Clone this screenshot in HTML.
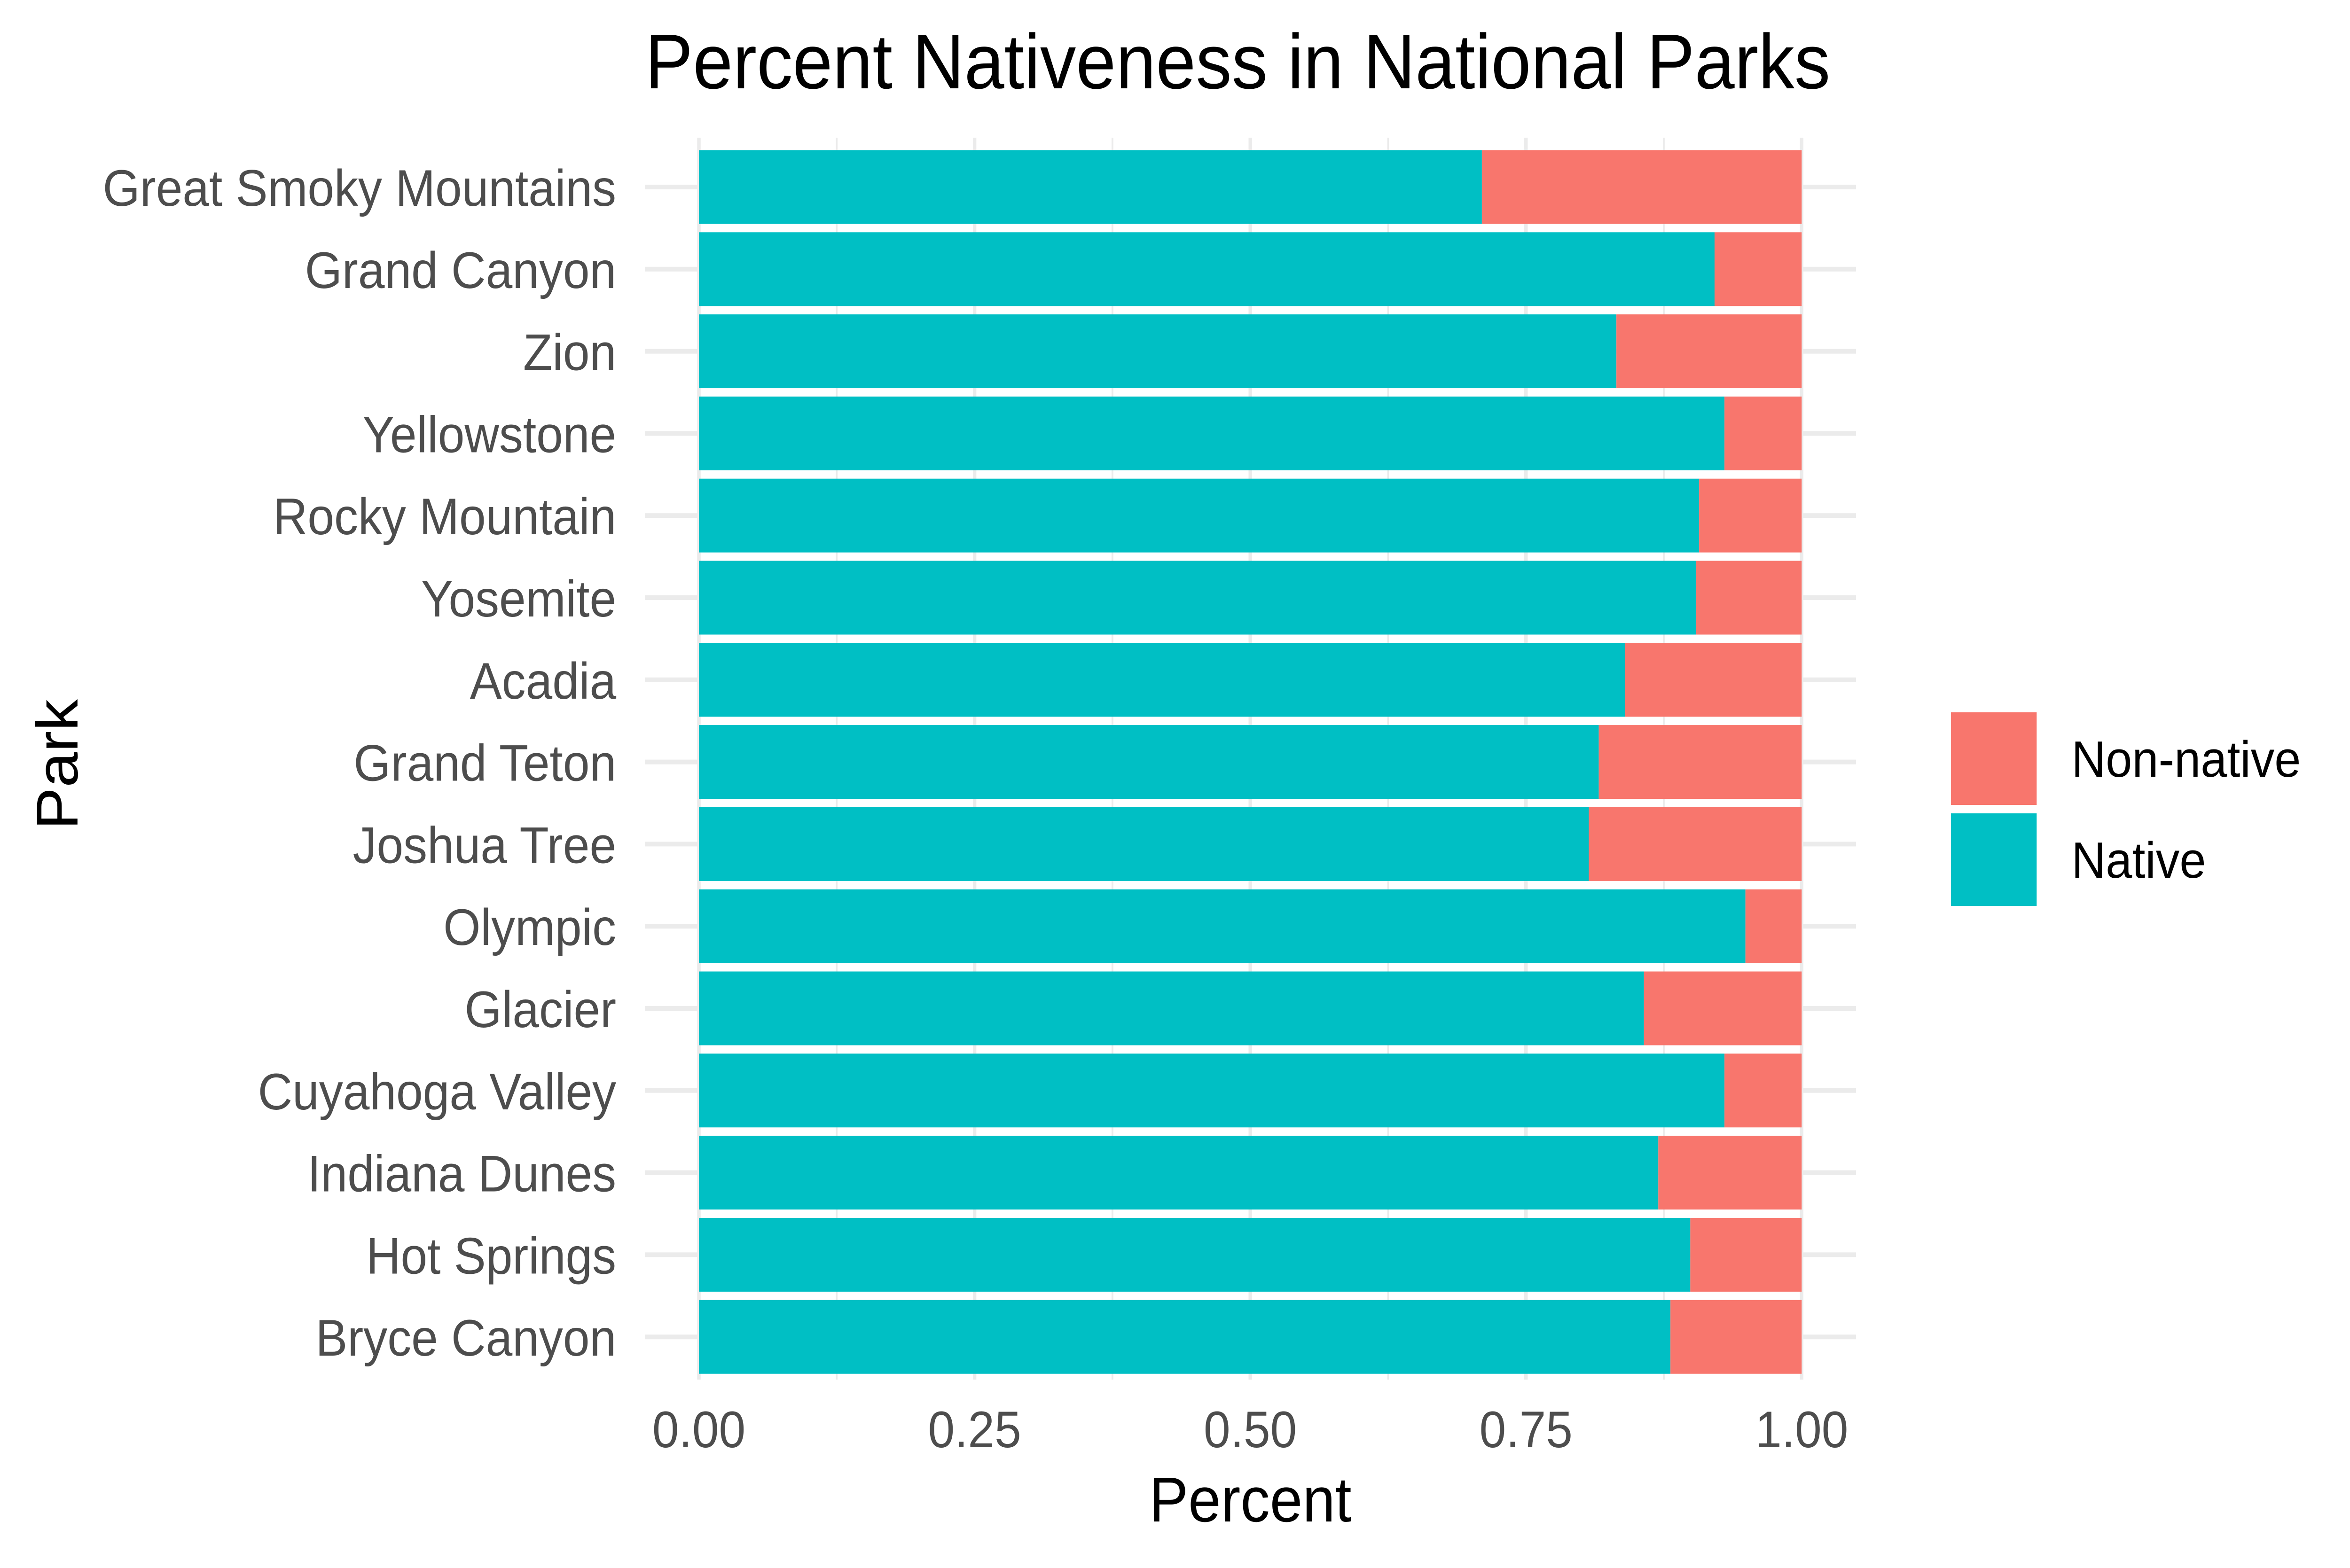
<!DOCTYPE html>
<html>
<head>
<meta charset="utf-8">
<style>
  html,body{margin:0;padding:0;background:#fff;overflow:hidden;width:100vw;height:100vh;}
  svg{display:block;width:100vw;height:100vh;}
  text{font-family:"Liberation Sans",Arial,sans-serif;}
</style>
</head>
<body>
<svg id="chart" viewBox="0 0 5400 3337" preserveAspectRatio="none" xmlns="http://www.w3.org/2000/svg">
  <rect x="0" y="0" width="5400" height="3337" fill="#ffffff"/>
  <g id="grid"></g>
  <g id="bars"></g>
  <g id="yticks"></g>
  <g id="xticks"></g>
  <text x="2844" y="188" font-size="165" text-anchor="middle" fill="#000">Percent Nativeness in National Parks</text>
  <text x="2873" y="3238" font-size="135" text-anchor="middle" fill="#000">Percent</text>
  <text x="0" y="0" font-size="135" text-anchor="middle" fill="#000" transform="translate(178,1627) rotate(-90)">Park</text>
  <g>
    <rect x="4483" y="1516" width="197" height="197" fill="#F8766D"/>
    <text x="4760" y="1653" font-size="109" fill="#000">Non-native</text>
    <rect x="4483" y="1731" width="197" height="197" fill="#00BFC4"/>
    <text x="4760" y="1868" font-size="109" fill="#000">Native</text>
  </g>
</svg>
<script>
const parks = ["Great Smoky Mountains","Grand Canyon","Zion","Yellowstone","Rocky Mountain","Yosemite","Acadia","Grand Teton","Joshua Tree","Olympic","Glacier","Cuyahoga Valley","Indiana Dunes","Hot Springs","Bryce Canyon"];
const nativeShare = [0.710,0.921,0.832,0.930,0.907,0.904,0.840,0.816,0.807,0.949,0.857,0.930,0.870,0.899,0.881];
const xTickValues = [0,0.25,0.5,0.75,1];
const xTickLabels = ["0.00","0.25","0.50","0.75","1.00"];
const xMinorValues = [0.125,0.375,0.625,0.875];

const NS="http://www.w3.org/2000/svg";
const x0=1606, x1=4140;
const xs=v=>x0+(x1-x0)*v;
const yTop=398, step=174.8;
const ys=i=>yTop+step*i;
const barH=157;
const gridL=1482, gridR=4265, gridT=293, gridB=2936;

function mk(tag,attrs,parent){const e=document.createElementNS(NS,tag);for(const k in attrs)e.setAttribute(k,attrs[k]);parent.appendChild(e);return e;}
const grid=document.getElementById('grid'), bars=document.getElementById('bars');
const yt=document.getElementById('yticks'), xt=document.getElementById('xticks');

xMinorValues.forEach(v=>{
  const l=mk('line',{x1:xs(v),x2:xs(v),y1:gridT,y2:gridB,stroke:'#ebebeb','stroke-width':4},grid);
  
  
});
xTickValues.forEach((v,i)=>{
  const l=mk('line',{x1:xs(v),x2:xs(v),y1:gridT,y2:gridB,stroke:'#ebebeb','stroke-width':8},grid);
  
  
  const t=mk('text',{x:xs(v),y:3080,'font-size':110,'text-anchor':'middle',fill:'#4d4d4d'},xt);
  t.textContent=xTickLabels[i];
  
  
});
parks.forEach((p,i)=>{
  const y=ys(i);
  const l=mk('line',{x1:gridL,x2:gridR,y1:y,y2:y,stroke:'#ebebeb','stroke-width':10},grid);
  
  
  const n=nativeShare[i];
  const r1=mk('rect',{x:xs(0),y:y-barH/2,width:xs(n)-xs(0),height:barH,fill:'#00BFC4'},bars);
  
  
  const r2=mk('rect',{x:xs(n),y:y-barH/2,width:xs(1)-xs(n),height:barH,fill:'#F8766D'},bars);
  
  
  const t=mk('text',{x:1416,y:y+40,'font-size':110,'text-anchor':'end',fill:'#4d4d4d'},yt);
  t.textContent=p;
  
  
});
</script>
</body>
</html>
